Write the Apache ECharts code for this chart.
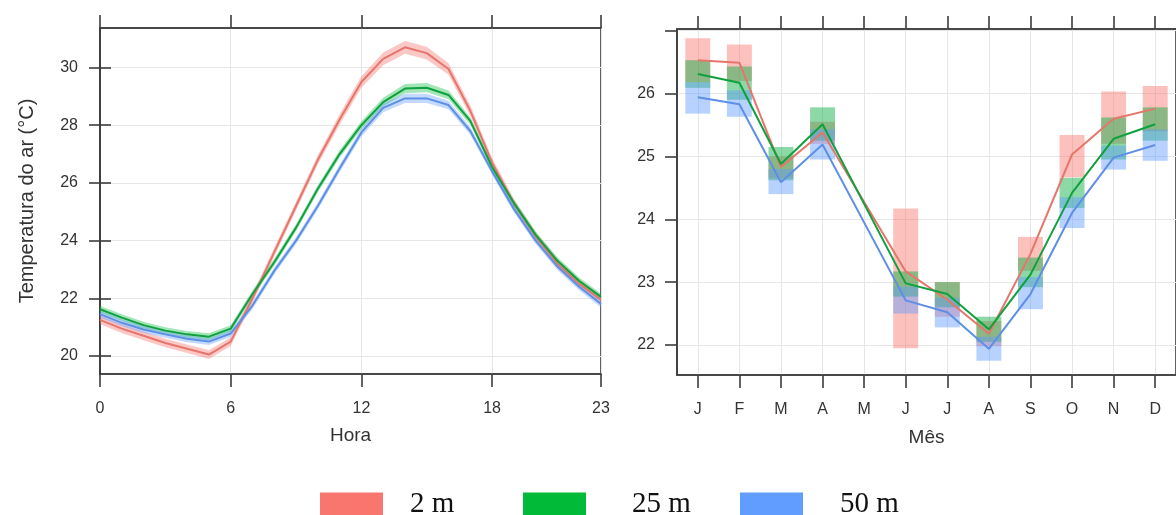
<!DOCTYPE html>
<html><head><meta charset="utf-8">
<script src="https://cdn.jsdelivr.net/npm/echarts@6/dist/echarts.min.js"></script>
<style>html,body{margin:0;padding:0;background:#fff}#c{width:1176px;height:515px}</style>
</head><body><div id="c"></div>
<script>
// ---------- data: left panel (hourly) ----------
const hours = [0,1,2,3,4,5,6,7,8,9,10,11,12,13,14,15,16,17,18,19,20,21,22,23];
const hourRed   = [21.25,20.95,20.7,20.45,20.25,20.05,20.5,22.0,23.6,25.2,26.8,28.2,29.5,30.3,30.7,30.5,29.95,28.5,26.7,25.3,24.15,23.2,22.5,21.95];
const hourGreen = [21.62,21.33,21.07,20.88,20.75,20.67,20.95,22.15,23.25,24.45,25.8,27.0,28.0,28.8,29.27,29.3,29.05,28.15,26.55,25.3,24.2,23.3,22.6,22.05];
const hourBlue  = [21.45,21.15,20.92,20.75,20.6,20.5,20.78,21.75,22.95,24.0,25.2,26.5,27.75,28.6,28.93,28.93,28.7,27.8,26.4,25.1,24.0,23.1,22.4,21.8];
// half-width of the confidence band
const hourRedCI   = [0.15,0.15,0.15,0.15,0.15,0.15,0.15,0.15,0.15,0.15,0.16,0.18,0.2,0.22,0.22,0.22,0.2,0.18,0.16,0.15,0.15,0.15,0.15,0.15];
const hourGreenCI = [0.12,0.12,0.12,0.12,0.12,0.12,0.12,0.12,0.12,0.12,0.12,0.13,0.14,0.15,0.16,0.16,0.15,0.13,0.12,0.12,0.12,0.12,0.12,0.12];
const hourBlueCI  = [0.12,0.12,0.12,0.12,0.12,0.12,0.12,0.12,0.12,0.12,0.12,0.13,0.14,0.15,0.16,0.16,0.15,0.13,0.12,0.12,0.12,0.12,0.12,0.12];
const hourTicks = [0,6,12,18,23];
const tempTicksLeft = [20,22,24,26,28,30];

// ---------- data: right panel (monthly) ----------
const months = ['J','F','M','A','M','J','J','A','S','O','N','D'];
const monthIdx = [1,2,3,4,5,6,7,8,9,10,11,12];
const monRed    = [26.53,26.49,24.83,25.38,null,23.17,22.72,22.18,23.45,25.03,25.6,25.76];
const monRedLo  = [26.18,26.2,24.65,25.2,null,21.95,22.45,21.98,23.18,24.67,25.2,25.4];
const monRedHi  = [26.88,26.78,25.0,25.55,null,24.17,23.0,22.38,23.72,25.34,26.03,26.12];
const monGreen   = [26.31,26.17,24.88,25.51,null,22.98,22.81,22.25,23.12,24.42,25.28,25.51];
const monGreenLo = [26.09,25.9,24.62,25.25,null,22.77,22.6,22.05,22.92,24.18,24.95,25.25];
const monGreenHi = [26.53,26.43,25.15,25.78,null,23.17,23.0,22.45,23.39,24.66,25.62,25.78];
const monBlue   = [25.94,25.83,24.59,25.19,null,22.71,22.52,21.94,22.81,24.1,24.98,25.18];
const monBlueLo = [25.68,25.63,24.4,24.95,null,22.5,22.28,21.75,22.57,23.86,24.79,24.93];
const monBlueHi = [26.18,26.05,24.8,25.43,null,22.93,22.75,22.13,23.08,24.35,25.17,25.43];
const tempTicksRight = [22,23,24,25,26,27];
const tempLabelsRight = [22,23,24,25,26];

const seriesNames = ['2 m','25 m','50 m'];

// ---------- styling ----------
const C = {
  red:  {line:'#E6756C', band:'rgba(248,118,109,0.40)', box:'rgba(248,118,109,0.45)', legend:'#F8766D'},
  green:{line:'#11A03E', band:'rgba(0,186,56,0.36)',   box:'rgba(0,170,60,0.45)',   legend:'#00BA38'},
  blue: {line:'#5E8FE6', band:'rgba(97,156,255,0.38)', box:'rgba(97,156,255,0.45)', legend:'#619CFF'}
};
const FRAME = '#3c3c3c';
const GRIDC = '#e6e6e6';
const FONT = 'Liberation Sans';
const lblStyle = {color:'#333', fontSize:16, fontFamily:FONT};
const nameStyle = {color:'#333', fontSize:19, fontFamily:FONT};

const chart = echarts.init(document.getElementById('c'), null, {renderer:'canvas'});

function pairs(xs, ys){ return xs.map((x,i)=>[x, ys[i]]); }

// confidence band drawn as one polygon through the axis scales
function bandSeries(name, vals, ci, col, z){
  const d = hours.map((h,i)=>[h, vals[i]-ci[i], vals[i]+ci[i]]);
  return {type:'custom', name:name+' band', xAxisIndex:0, yAxisIndex:0, silent:true, z:z,
    encode:{x:0, y:[1,2]}, data:d,
    renderItem:function(params, api){
      if (params.dataIndex !== 0) return null;
      const n = d.length, top = [], bot = [];
      for (let j=0;j<n;j++){
        top.push(api.coord([api.value(0,j), api.value(2,j)]));
        bot.push(api.coord([api.value(0,j), api.value(1,j)]));
      }
      return {type:'polygon', shape:{points: top.concat(bot.reverse())}, style:{fill:col}};
    }};
}
function lineSeries(name, xs, ys, col, xi, yi, z){
  return {type:'line', name:name, xAxisIndex:xi, yAxisIndex:yi, symbol:'none', connectNulls:true, silent:true,
    data: pairs(xs, ys), lineStyle:{color:col, width:2}, itemStyle:{color:col}, z:z};
}
const BOXW = 0.6;
function boxSeries(name, lo, hi, col, z){
  const d = [];
  monthIdx.forEach((m,i)=>{ if(lo[i]!=null) d.push([m, lo[i], hi[i]]); });
  return {type:'custom', name:name+' box', xAxisIndex:1, yAxisIndex:2, silent:true, z:z,
    encode:{x:0, y:[1,2]}, data:d,
    renderItem:function(params, api){
      const x = api.value(0);
      const pHi = api.coord([x, api.value(2)]);
      const pLo = api.coord([x, api.value(1)]);
      const w = api.size([BOXW, 0])[0];
      return {type:'rect', shape:{x:pHi[0]-w/2, y:pHi[1], width:w, height:pLo[1]-pHi[1]}, style:{fill:col}};
    }};
}

const leftYMin = 19.376, leftYMax = 31.37;
const rightYMin = 21.523, rightYMax = 27.026;

const legendText = {fontFamily:'Liberation Serif', fontSize:29, color:'#111'};
const option = {
  animation:false,
  backgroundColor:'#fff',
  grid:[
    {left:100, top:28, width:501, height:346, show:true, borderColor:FRAME, borderWidth:1.6, containLabel:false},
    {left:677, top:29, width:499, height:346, show:true, borderColor:FRAME, borderWidth:1.6, containLabel:false}
  ],
  xAxis:[
    {type:'value', gridIndex:0, min:0, max:23, position:'bottom',
     name:'Hora', nameLocation:'middle', nameGap:52, nameTextStyle:nameStyle,
     axisLine:{show:true, lineStyle:{color:FRAME, width:1.6}},
     axisTick:{show:true, length:13, customValues:hourTicks, lineStyle:{color:FRAME, width:1.6}},
     axisLabel:{customValues:hourTicks, margin:27, ...lblStyle},
     splitLine:{show:true, lineStyle:{color:GRIDC, width:1}}},
    {type:'value', gridIndex:1, min:0.5, max:12.5, position:'bottom',
     name:'Mês', nameLocation:'middle', nameGap:53, nameTextStyle:nameStyle,
     axisLine:{show:true, lineStyle:{color:FRAME, width:1.6}},
     axisTick:{show:true, length:13, customValues:monthIdx, lineStyle:{color:FRAME, width:1.6}},
     axisLabel:{customValues:monthIdx, margin:27, formatter:v=>months[Math.round(v)-1], ...lblStyle},
     splitLine:{show:true, lineStyle:{color:GRIDC, width:1}}},
    {type:'value', gridIndex:0, min:0, max:23, position:'top',
     axisLine:{show:true, lineStyle:{color:FRAME, width:1.6}},
     axisTick:{show:true, length:13, customValues:hourTicks, lineStyle:{color:FRAME, width:1.6}},
     axisLabel:{show:false}, splitLine:{show:false}},
    {type:'value', gridIndex:1, min:0.5, max:12.5, position:'top',
     axisLine:{show:true, lineStyle:{color:FRAME, width:1.6}},
     axisTick:{show:true, length:13, customValues:monthIdx, lineStyle:{color:FRAME, width:1.6}},
     axisLabel:{show:false}, splitLine:{show:false}}
  ],
  yAxis:[
    {type:'value', gridIndex:0, min:leftYMin, max:leftYMax, position:'left',
     name:'Temperatura do ar (°C)', nameLocation:'middle', nameGap:63, nameTextStyle:{...nameStyle, fontSize:20},
     axisLine:{show:true, lineStyle:{color:FRAME, width:1.6}},
     axisTick:{show:true, length:11, customValues:tempTicksLeft, lineStyle:{color:FRAME, width:1.6}},
     axisLabel:{customValues:tempTicksLeft, margin:22, ...lblStyle},
     splitLine:{show:true, lineStyle:{color:GRIDC, width:1}}},
    {type:'value', gridIndex:0, min:leftYMin, max:leftYMax, position:'right',
     axisLine:{show:true, lineStyle:{color:FRAME, width:1.6}},
     axisTick:{show:true, length:11, customValues:tempTicksLeft, lineStyle:{color:FRAME, width:1.6}},
     axisLabel:{show:false}, splitLine:{show:false}},
    {type:'value', gridIndex:1, min:rightYMin, max:rightYMax, position:'left',
     axisLine:{show:true, lineStyle:{color:FRAME, width:1.6}},
     axisTick:{show:true, length:12, customValues:tempTicksRight, lineStyle:{color:FRAME, width:1.6}},
     axisLabel:{customValues:tempLabelsRight, margin:22, ...lblStyle},
     splitLine:{show:true, lineStyle:{color:GRIDC, width:1}}}
  ],
  legend:[
    {left:320, top:490, padding:0, itemWidth:63, itemHeight:24, icon:'rect', selectedMode:false,
     textStyle:{...legendText, padding:[0,0,0,22]},
     data:[{name:seriesNames[0], icon:'rect', itemStyle:{color:C.red.legend}}]},
    {left:523, top:490, padding:0, itemWidth:63, itemHeight:24, icon:'rect', selectedMode:false,
     textStyle:{...legendText, padding:[0,0,0,41]},
     data:[{name:seriesNames[1], icon:'rect', itemStyle:{color:C.green.legend}}]},
    {left:740, top:490, padding:0, itemWidth:63, itemHeight:24, icon:'rect', selectedMode:false,
     textStyle:{...legendText, padding:[0,0,0,32]},
     data:[{name:seriesNames[2], icon:'rect', itemStyle:{color:C.blue.legend}}]}
  ],
  series:[
    bandSeries('2 m', hourRed, hourRedCI, C.red.band, 2),
    bandSeries('25 m', hourGreen, hourGreenCI, C.green.band, 2),
    bandSeries('50 m', hourBlue, hourBlueCI, C.blue.band, 2),
    lineSeries(seriesNames[0], hours, hourRed, C.red.line, 0, 0, 5),
    lineSeries(seriesNames[2], hours, hourBlue, C.blue.line, 0, 0, 5),
    lineSeries(seriesNames[1], hours, hourGreen, C.green.line, 0, 0, 5),
    boxSeries('2 m', monRedLo, monRedHi, C.red.box, 2),
    boxSeries('25 m', monGreenLo, monGreenHi, C.green.box, 2),
    boxSeries('50 m', monBlueLo, monBlueHi, C.blue.box, 2),
    lineSeries(seriesNames[0], monthIdx, monRed, C.red.line, 1, 2, 5),
    lineSeries(seriesNames[2], monthIdx, monBlue, C.blue.line, 1, 2, 5),
    lineSeries(seriesNames[1], monthIdx, monGreen, C.green.line, 1, 2, 5)
  ]
};
chart.setOption(option);
</script>
</body></html>
